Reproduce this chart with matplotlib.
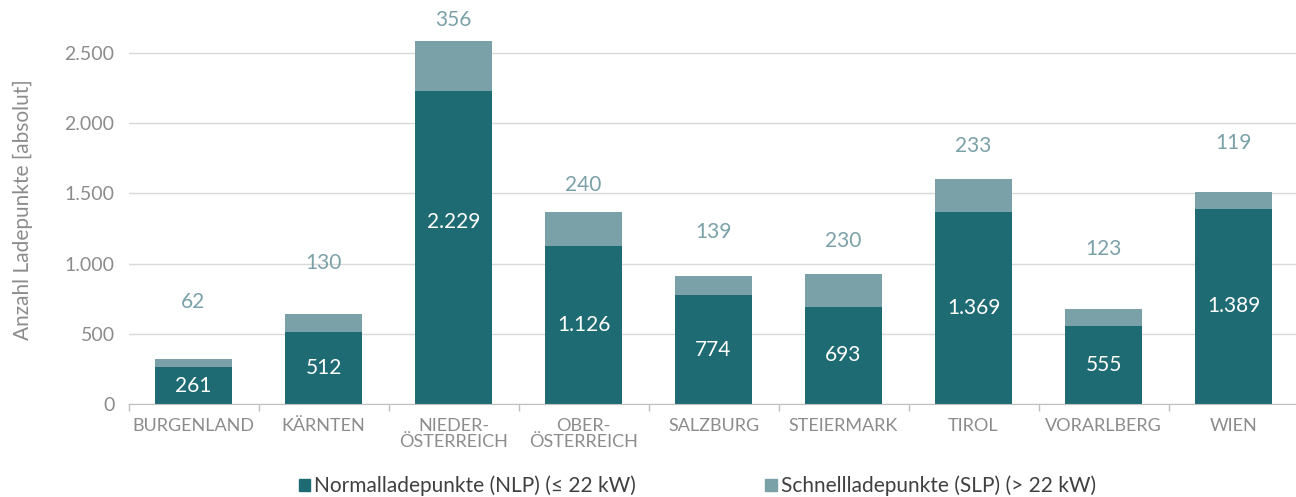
import matplotlib.pyplot as plt
from matplotlib.patches import Patch
import numpy as np

plt.rcParams['font.family'] = ['Lato', 'DejaVu Sans']

# Data
categories = ["BURGENLAND", "KÄRNTEN", "NIEDER-\nÖSTERREICH", "OBER-\nÖSTERREICH",
              "SALZBURG", "STEIERMARK", "TIROL", "VORARLBERG", "WIEN"]
nlp = [261, 512, 2229, 1126, 774, 693, 1369, 555, 1389]
slp = [62, 130, 356, 240, 139, 230, 233, 123, 119]
legend_labels = ["Normalladepunkte (NLP) (≤ 22 kW)", "Schnellladepunkte (SLP) (> 22 kW)"]

# label placement tweaks (pixels)
slp_label_offset = [57, 51, 21, 27, 44, 33, 33, 60, 49]
nlp_label_shift = [0, 0, 26, 0, 0, 0, 0, 0, 0]

DARK = '#1f6b73'
LIGHT = '#7ba1a8'
GREY = '#8c8c8c'

def fmt(v):
    return f"{v:,}".replace(",", ".")

fig = plt.figure(figsize=(12.96, 4.97), dpi=100)
ax = fig.add_axes([128.5 / 1296, 93 / 497, 1170 / 1296, 404 / 497])

x = np.arange(len(categories))
w = 0.59
ax.bar(x, nlp, w, color=DARK, zorder=2)
ax.bar(x, slp, w, bottom=nlp, color=LIGHT, zorder=2)

ax.set_xlim(-0.5, len(categories) - 0.5)
ax.set_ylim(0, 2500 * 404 / 351)
ax.set_yticks([0, 500, 1000, 1500, 2000, 2500])
ax.set_yticklabels([fmt(v) for v in [0, 500, 1000, 1500, 2000, 2500]])
ax.yaxis.grid(True, color='#d9d9d9', linewidth=1)
ax.set_axisbelow(True)

ax.set_xticks(x)
ax.set_xticklabels(categories, fontsize=13, color=GREY, linespacing=1.0)
ax.set_xticks(np.arange(-0.5, len(categories) + 0.5, 1), minor=True)
ax.tick_params(axis='x', which='major', length=0, pad=10)
ax.tick_params(axis='x', which='minor', length=5, color='#bfbfbf', width=1)
ax.tick_params(axis='y', length=0, labelsize=14, labelcolor=GREY, pad=10)

for s in ['top', 'right', 'left']:
    ax.spines[s].set_visible(False)
ax.spines['bottom'].set_color('#bfbfbf')

ax.set_ylabel("Anzahl Ladepunkte [absolut]", fontsize=15, color=GREY)
ax.yaxis.set_label_coords(-0.082, 0.48)

for i in range(len(categories)):
    ax.annotate(fmt(nlp[i]), (x[i], nlp[i] / 2), xytext=(0, nlp_label_shift[i] * 0.72),
                textcoords='offset points', ha='center', va='center',
                color='white', fontsize=15)
    ax.annotate(fmt(slp[i]), (x[i], nlp[i] + slp[i]), xytext=(0, slp_label_offset[i] * 0.72),
                textcoords='offset points', ha='center', va='center',
                color=LIGHT, fontsize=15, annotation_clip=False)

handles = [Patch(color=DARK), Patch(color=LIGHT)]
fig.legend(handles, legend_labels, loc='center', bbox_to_anchor=(0.538, 1 - 486 / 497),
           ncol=2, frameon=False, fontsize=15, handlelength=0.55, handleheight=0.55,
           handletextpad=0.2, columnspacing=6.2, labelcolor='#404040')

fig.savefig("out.png", dpi=100)
